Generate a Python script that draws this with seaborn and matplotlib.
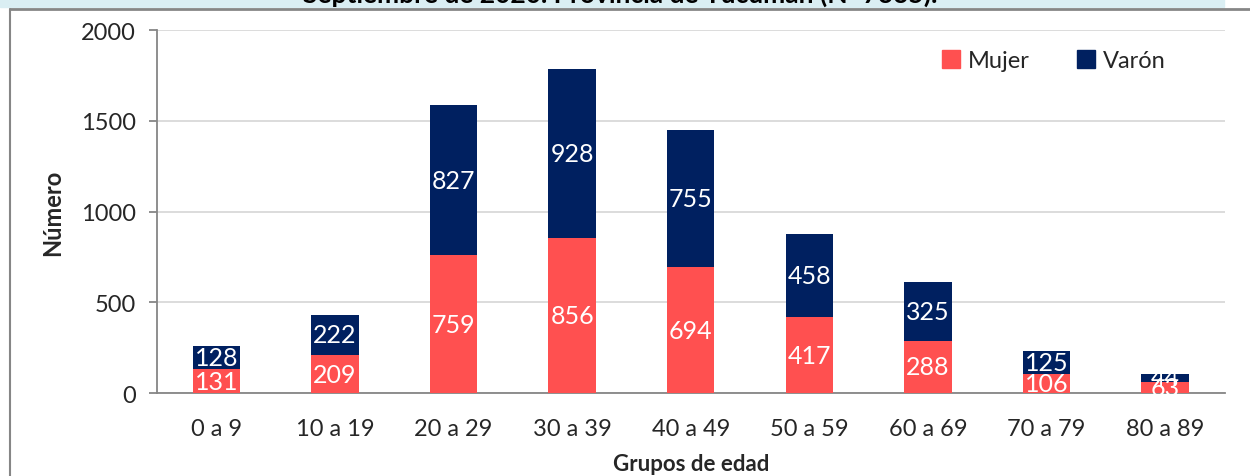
import matplotlib
matplotlib.use("Agg")
import matplotlib.pyplot as plt
from matplotlib.patches import Rectangle, Patch
import seaborn as sns
import pandas as pd

# datos por grupo de edad
grupos = ["0 a 9", "10 a 19", "20 a 29", "30 a 39", "40 a 49",
          "50 a 59", "60 a 69", "70 a 79", "80 a 89"]
mujer = [131, 209, 759, 856, 694, 417, 288, 106, 63]
varon = [128, 222, 827, 928, 755, 458, 325, 125, 44]
titulo = "Septiembre de 2020. Provincia de Tucumán (N=7335)."

col_mujer = "#FF5050"
col_varon = "#002060"
gris = "#868686"

df = pd.DataFrame({"grupo": grupos, "mujer": mujer, "varon": varon})
df["total"] = df["mujer"] + df["varon"]

sns.set_style("white")
plt.rcParams["font.family"] = ["Lato", "DejaVu Sans"]

fig = plt.figure(figsize=(12.5, 4.77), dpi=100)
ax = fig.add_axes([0.1256, 0.174, 0.854, 0.761])

# franja del titulo (recortada arriba)
fig.patches.append(Rectangle((0, 1 - 8 / 477), 1224 / 1250, 8 / 477,
                             transform=fig.transFigure, color="#DAEEF3", zorder=0))
fig.add_artist(plt.Line2D([10 / 1250, 1], [1 - 9.5 / 477, 1 - 9.5 / 477],
                          transform=fig.transFigure, color=gris, lw=2))
fig.add_artist(plt.Line2D([10 / 1250, 10 / 1250], [0, 1 - 9.5 / 477],
                          transform=fig.transFigure, color=gris, lw=1.5))
fig.text(620 / 1250, 1 - 3 / 477, titulo, ha="center", va="baseline",
         fontsize=19, fontweight="bold", color="#000000")

# barras apiladas: total (varon) detras, mujer delante
sns.barplot(data=df, x="grupo", y="total", color=col_varon, width=0.4,
            saturation=1, linewidth=0, ax=ax, zorder=3)
sns.barplot(data=df, x="grupo", y="mujer", color=col_mujer, width=0.4,
            saturation=1, linewidth=0, ax=ax, zorder=3)

for i, (m, v) in enumerate(zip(mujer, varon)):
    ax.text(i, m / 2, str(m), ha="center", va="center", color="white",
            fontsize=18, zorder=5)
    ax.text(i, m + v / 2, str(v), ha="center", va="center", color="white",
            fontsize=18, zorder=5)

ax.set_xlim(-0.5, len(grupos) - 0.5)
ax.set_ylim(0, 2000)
ax.set_yticks([0, 500, 1000, 1500, 2000])
ax.yaxis.grid(True, color="#D9D9D9", lw=1.3, zorder=0)
ax.set_axisbelow(True)

ax.set_xticks(range(len(grupos)))
ax.set_xticklabels(grupos)
ax.set_xticks([i - 0.5 for i in range(len(grupos) + 1)], minor=True)
ax.tick_params(axis="x", which="major", length=0, pad=18, labelsize=17)
ax.tick_params(axis="x", which="minor", length=6, width=1.3, color=gris, direction="out")
ax.tick_params(axis="y", length=6, width=1.3, color=gris, direction="out",
               labelsize=17, pad=9, left=True)

for s in ["top", "right"]:
    ax.spines[s].set_visible(False)
for s in ["left", "bottom"]:
    ax.spines[s].set_color(gris)
    ax.spines[s].set_linewidth(1.3)

ax.set_xlabel("Grupos de edad", fontsize=16, fontweight="bold", labelpad=10)
ax.set_ylabel("Número", fontsize=17, fontweight="bold", labelpad=12)

handles = [Patch(color=col_mujer, label="Mujer"), Patch(color=col_varon, label="Varón")]
ax.legend(handles=handles, loc="center right", bbox_to_anchor=(0.965, 0.915),
          ncol=2, frameon=False, fontsize=17, handlelength=0.75, handleheight=0.75,
          handletextpad=0.35, columnspacing=2.0)

fig.savefig("out.png", dpi=100)
